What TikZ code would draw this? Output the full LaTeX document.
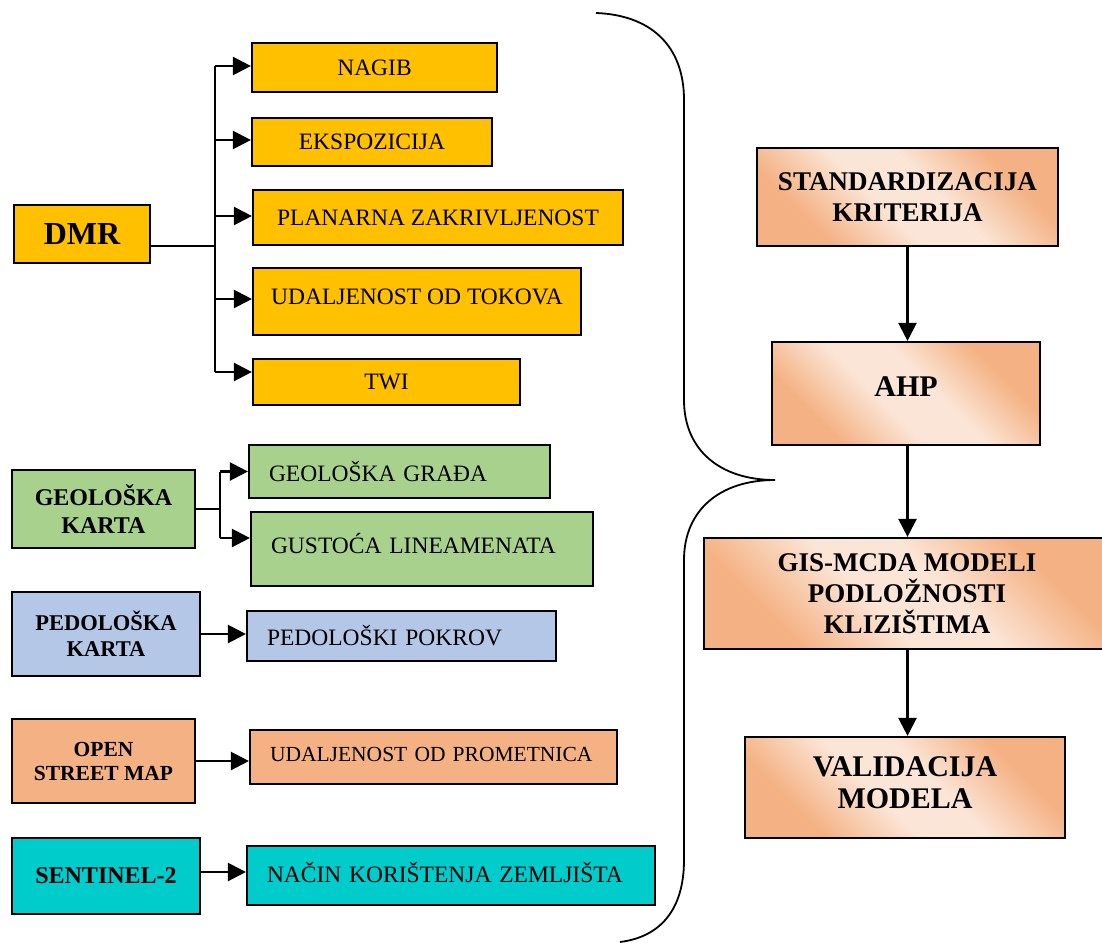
\documentclass[tikz,border=0pt]{standalone}
\usepackage{fontspec}
\setmainfont{Liberation Serif}
\usetikzlibrary{arrows.meta}
\definecolor{cus-yel}{RGB}{255, 192, 0}
\definecolor{cus-green}{RGB}{169, 209, 142}
\definecolor{cus-blue}{RGB}{180, 199, 231}
\definecolor{cus-ora}{RGB}{244, 177, 131}
\definecolor{cus-ora2}{RGB}{251, 229, 214}
\definecolor{cus-tur}{RGB}{0, 204, 204}
\pgfdeclareverticalshading{oragrad}{100bp}{color(0bp)=(cus-ora); color(28bp)=(cus-ora); color(44bp)=(cus-ora2); color(56bp)=(cus-ora2); color(72bp)=(cus-ora); color(100bp)=(cus-ora)}
\newcommand{\fsnorm}{\fontsize{23.5}{28}\selectfont}
\newcommand{\fsgrp}{\fontsize{24}{28}\selectfont\bfseries}
\newcommand{\fsped}{\fontsize{22.5}{26}\selectfont\bfseries}
\newcommand{\fsosm}{\fontsize{21.5}{24}\selectfont\bfseries}
\newcommand{\fsdmr}{\fontsize{32}{36}\selectfont\bfseries}
\newcommand{\fsright}{\fontsize{27}{31}\selectfont\bfseries}
\newcommand{\fsbig}{\fontsize{30}{32}\selectfont\bfseries}
\tikzset{
	box/.style={draw, line width=2.2pt, rectangle, inner sep=0pt, align=center},
	cbox/.style 2 args={box, minimum width=#1 pt, minimum height=#2 pt},
	lbox/.style 2 args={box, inner xsep=20pt, text width=#1 pt, minimum height=#2 pt, align=left, font=\fsnorm},
	grad/.style={shading=oragrad, shading angle=-45},
	line/.style={line width=2.4pt},
	arr/.style={line, -{Triangle[length=18pt,width=18pt]}}
}
\begin{document}
\begin{tikzpicture}[x=1pt, y=-1pt]
	\useasboundingbox (0 ,0) rectangle (1102,942);
	\clip (0 ,0) rectangle (1102,942);
	
	% DMR
	\node [cbox={136}{58}, fill=cus-yel, font=\fsdmr] (dmr) at (82,234) {DMR};
	\node [cbox={245}{49}, fill=cus-yel, font=\fsnorm] (nagib) at (374.5,67.5) {NAGIB};
	\node [cbox={240}{48}, fill=cus-yel, font=\fsnorm] (eksp) at (372,142) {EKSPOZICIJA};
	\node [cbox={370}{55}, fill=cus-yel, font=\fsnorm] (plan) at (438,217.5) {PLANARNA ZAKRIVLJENOST};
	\node [cbox={328}{67}, fill=cus-yel, font=\fsnorm, text depth=9pt] (udtok) at (417,301.5) {UDALJENOST OD TOKOVA};
	\node [cbox={267}{46}, fill=cus-yel, font=\fsnorm] (twi) at (386.5,382) {TWI};
	
	\coordinate (dtop) at (215,66);
	\coordinate (dbot) at (215,372);
	\draw [line] (dtop) -- (dbot);
	\coordinate (dmrout) at ([yshift=-12pt]dmr.east);
	\draw [line] (dmrout) -- (dmrout -| dtop);
	\foreach \n/\s in {nagib/1.5, eksp/2, plan/1.5, udtok/2.5, twi/10}{
		\coordinate (tip) at ([yshift=\s pt]\n.west);
		\draw [arr] (tip -| dtop) -- (tip);
	}
	
	% geoloska karta
	\node [cbox={183}{78}, fill=cus-green, font=\fsgrp] (geok) at (103.5,509) {GEOLOŠKA\\KARTA};
	\node [lbox={261}{53}, fill=cus-green] (grada) at (399.5,471.5) {GEOLOŠKA GRAĐA};
	\node [lbox={302}{74}, fill=cus-green, text depth=12pt] (gust) at (422,549) {GUSTOĆA LINEAMENATA};
	\coordinate (gtr) at (220,0);
	\coordinate (g1) at (grada.west);
	\coordinate (g2) at ([yshift=11pt]gust.west);
	\draw [line] (geok.east) -- (geok.east -| gtr);
	\draw [line] (g1 -| gtr) -- (g2 -| gtr);
	\draw [arr] (g1 -| gtr) -- (g1);
	\draw [arr] (g2 -| gtr) -- (g2);
	
	% pedoloska karta
	\node [cbox={188}{84}, fill=cus-blue, font=\fsped] (pedk) at (106,634) {PEDOLOŠKA\\KARTA};
	\node [lbox={269}{50}, fill=cus-blue] (pokrov) at (401.5,636) {PEDOLOŠKI POKROV};
	\draw [arr] (pedk.east) -- (pedk.east -| pokrov.west);
	
	% open street map
	\node [cbox={183}{84}, fill=cus-ora, font=\fsosm] (osm) at (103.5,761) {OPEN\\STREET MAP};
	\node [lbox={327}{54}, fill=cus-ora, font=\fontsize{21.5}{24}\selectfont, text depth=6pt] (udprom) at (433.5,757) {UDALJENOST OD PROMETNICA};
	\draw [arr] (osm.east) -- (osm.east -| udprom.west);
	
	% sentinel
	\node [cbox={188}{76}, fill=cus-tur, font=\fsgrp] (sent) at (106,876) {SENTINEL-2};
	\node [lbox={368}{59}, fill=cus-tur, text depth=7pt] (nacin) at (451,875.5) {NAČIN KORIŠTENJA ZEMLJIŠTA};
	\draw [arr] ([yshift=4pt]sent.east) -- ([yshift=4pt]sent.east -| nacin.west);
	
	% brace
	\draw [line width=1.8pt] (596,13) .. controls (650,15) and (684,45) .. (684,100) -- (684,400)
		.. controls (684,450) and (720,480) .. (775,480)
		.. controls (720,480) and (684,510) .. (684,560) -- (684,860)
		.. controls (684,910) and (660,937) .. (620,942);
	
	% right column
	\node [cbox={301}{98}, grad, font=\fsright] (stand) at (907.5,197) {STANDARDIZACIJA\\KRITERIJA};
	\node [cbox={268}{103}, grad, font=\fsbig, text depth=13pt] (ahp) at (906,393.5) {AHP};
	\node [cbox={406}{111}, grad, font=\fsright] (gis) at (907,593.5) {GIS-MCDA MODELI\\PODLOŽNOSTI\\KLIZIŠTIMA};
	\node [cbox={320}{101}, grad, font=\fsbig, text depth=9pt] (valid) at (905,787.5) {VALIDACIJA\\MODELA};
	\draw [arr] (stand.south) -- (stand.south |- ahp.north);
	\draw [arr] (ahp.south -| stand.south) -- (stand.south |- gis.north);
	\draw [arr] (gis.south -| stand.south) -- (stand.south |- valid.north);
\end{tikzpicture}
\end{document}
